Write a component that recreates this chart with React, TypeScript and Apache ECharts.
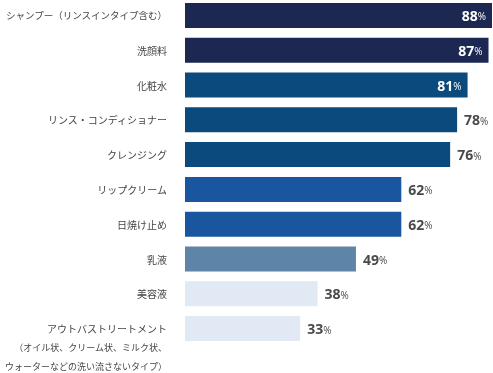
import React, { useEffect, useRef } from "react";
import * as echarts from "echarts";

const categories = [
  "シャンプー（リンスインタイプ含む）",
  "洗顔料",
  "化粧水",
  "リンス・コンディショナー",
  "クレンジング",
  "リップクリーム",
  "日焼け止め",
  "乳液",
  "美容液",
  "アウトバストリートメント\n（オイル状、クリーム状、ミルク状、\nウォーターなどの洗い流さないタイプ）",
];
const values = [88, 87, 81, 78, 76, 62, 62, 49, 38, 33];
const barColors = [
  "#1c2752", "#1c2752", "#0b4a7d", "#0b4a7d", "#0b4a7d",
  "#1a56a0", "#1a56a0", "#5e84a8", "#e1e9f4", "#e1e9f4",
];
const insideCount = 3;

export default function App() {
  const ref = useRef<HTMLDivElement>(null);
  useEffect(() => {
    if (!ref.current) return;
    const chart = echarts.init(ref.current, null, { renderer: "svg" });
    const font = "'Noto Sans CJK JP', sans-serif";
    const data = values.map((v, i) => {
      const inside = i < insideCount;
      return {
        value: v,
        itemStyle: { color: barColors[i] },
        label: {
          show: true,
          position: inside ? "insideRight" : "right",
          distance: inside ? 6 : 7,
          formatter: "{n|{c}}{p|%}",
          rich: {
            n: {
              fontSize: 14,
              fontWeight: "bold",
              fontFamily: "'Open Sans', 'Noto Sans', sans-serif",
              color: inside ? "#ffffff" : "#4a4a4a",
            },
            p: {
              fontSize: 10,
              fontFamily: "'Open Sans', 'Noto Sans', sans-serif",
              color: inside ? "#ffffff" : "#4a4a4a",
              padding: [2, 0, 0, 0],
            },
          },
        },
      };
    });
    chart.setOption({
      animation: false,
      grid: {
        left: 185,
        right: 1,
        top: -2,
        height: 348,
        containLabel: false,
        outerBoundsMode: "none",
      },
      xAxis: {
        type: "value",
        min: 0,
        max: 88,
        show: false,
      },
      yAxis: {
        type: "category",
        inverse: true,
        data: categories,
        axisTick: { show: false },
        axisLine: { show: false },
        axisLabel: {
          margin: 18,
          color: "#444444",
          fontSize: 10,
          lineHeight: 19,
          fontFamily: font,
          interval: 0,
          hideOverlap: false,
          formatter: (val: string) => {
            const lines = val.split("\n");
            if (lines.length > 1) {
              return "\n\n" + lines.map((s, k) => (k === 0 ? "{m|" + s + "}" : "{s|" + s + "}")).join("\n");
            }
            return val.length > 14 ? "{l|" + val + "}" : val;
          },
          rich: {
            m: { fontSize: 10, lineHeight: 19, color: "#444444", fontFamily: font },
            s: { fontSize: 9, lineHeight: 19, color: "#444444", fontFamily: font },
            l: { fontSize: 9.5, lineHeight: 19, color: "#444444", fontFamily: font },
          },
        },
      },
      series: [
        {
          type: "bar",
          barWidth: 25,
          data,
        },
      ],
    });
    return () => chart.dispose();
  }, []);
  return (
    <div
      ref={ref}
      style={{ position: "fixed", left: 0, top: 0, width: 493, height: 373 }}
    />
  );
}
